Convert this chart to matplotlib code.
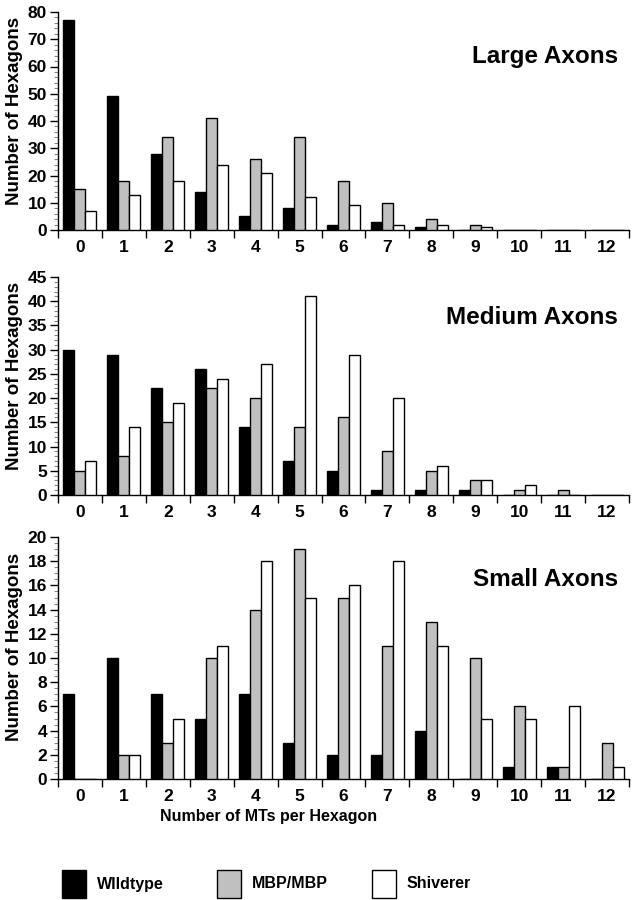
import matplotlib
matplotlib.use("Agg")
import matplotlib.pyplot as plt
from matplotlib.patches import Rectangle
from matplotlib.ticker import MultipleLocator, FixedLocator
import numpy as np

plt.rcParams['font.family'] = ['Liberation Sans', 'DejaVu Sans']
plt.rcParams['font.weight'] = 'bold'

categories = list(range(13))
series_names = ["WIldtype", "MBP/MBP", "Shiverer"]
series_colors = ["black", "#c0c0c0", "white"]

large_wild = [77, 49, 28, 14, 5, 8, 2, 3, 1, 0, 0, 0, 0]
large_mbp = [15, 18, 34, 41, 26, 34, 18, 10, 4, 2, 0, 0, 0]
large_shiv = [7, 13, 18, 24, 21, 12, 9, 2, 2, 1, 0, 0, 0]

medium_wild = [30, 29, 22, 26, 14, 7, 5, 1, 1, 1, 0, 0, 0]
medium_mbp = [5, 8, 15, 22, 20, 14, 16, 9, 5, 3, 1, 1, 0]
medium_shiv = [7, 14, 19, 24, 27, 41, 29, 20, 6, 3, 2, 0, 0]

small_wild = [7, 10, 7, 5, 7, 3, 2, 2, 4, 0, 1, 1, 0]
small_mbp = [0, 2, 3, 10, 14, 19, 15, 11, 13, 10, 6, 1, 3]
small_shiv = [0, 2, 5, 11, 18, 15, 16, 18, 11, 5, 5, 6, 1]

panels = [
    ("Large Axons", [large_wild, large_mbp, large_shiv], 80, 10, 2),
    ("Medium Axons", [medium_wild, medium_mbp, medium_shiv], 45, 5, 1),
    ("Small Axons", [small_wild, small_mbp, small_shiv], 20, 2, 0.5),
]

fig = plt.figure(figsize=(6.38, 9.0), dpi=100)
W, H = 638, 900
left, right = 58, 629
tops_bottoms = [(12, 230), (277, 495), (537, 779)]
title_y = [57, 317, 580]

x = np.array(categories)
bw = 0.25
offsets = [-0.25, 0.0, 0.25]

for (title, data, ymax, major, minor), (t, b), ty in zip(panels, tops_bottoms, title_y):
    ax = fig.add_axes([left / W, 1 - b / H, (right - left) / W, (b - t) / H])
    for vals, col, off in zip(data, series_colors, offsets):
        ax.bar(x + off, vals, width=bw, color=col, edgecolor="black", linewidth=1.0, zorder=3)
    ax.set_xlim(-0.5, 12.5)
    ax.set_ylim(0, ymax)
    ax.spines['top'].set_visible(False)
    ax.spines['right'].set_visible(False)
    ax.spines['left'].set_linewidth(1.0)
    ax.spines['bottom'].set_linewidth(1.0)
    ax.yaxis.set_major_locator(MultipleLocator(major))
    ax.yaxis.set_minor_locator(MultipleLocator(minor))
    ax.tick_params(axis='y', which='major', direction='out', length=6, width=1, labelsize=12.5, pad=2)
    ax.tick_params(axis='y', which='minor', direction='out', length=3, width=0.8, color='#888888')
    ax.set_xticks(x)
    ax.set_xticklabels([str(c) for c in categories])
    ax.xaxis.set_minor_locator(FixedLocator(np.arange(-0.5, 13.0, 1.0)))
    ax.tick_params(axis='x', which='major', length=0, labelsize=12.5, pad=7)
    ax.tick_params(axis='x', which='minor', direction='out', length=6, width=1)
    for lab in ax.get_xticklabels() + ax.get_yticklabels():
        lab.set_fontweight('bold')
    ax.set_ylabel("Number of Hexagons", fontsize=13.5, fontweight='bold')
    ax.yaxis.set_label_coords(-0.062, 0.545)
    ax.text(618 / W, 1 - ty / H, title, transform=fig.transFigure, ha='right', va='center',
            fontsize=17.5, fontweight='bold')

fig.text(269 / W, 1 - 816 / H, "Number of MTs per Hexagon", ha='center', va='center',
         fontsize=11.5, fontweight='bold')

# legend
leg_x = [62, 217, 372]
for name, col, lx in zip(series_names, series_colors, leg_x):
    fig.patches.append(Rectangle((lx / W, 1 - 898 / H), 24 / W, 28 / H, transform=fig.transFigure,
                                 facecolor=col, edgecolor='black', linewidth=1.0))
    fig.text((lx + 35) / W, 1 - 884 / H, name, ha='left', va='center', fontsize=11.5, fontweight='bold')

fig.savefig("out.png", dpi=100)
